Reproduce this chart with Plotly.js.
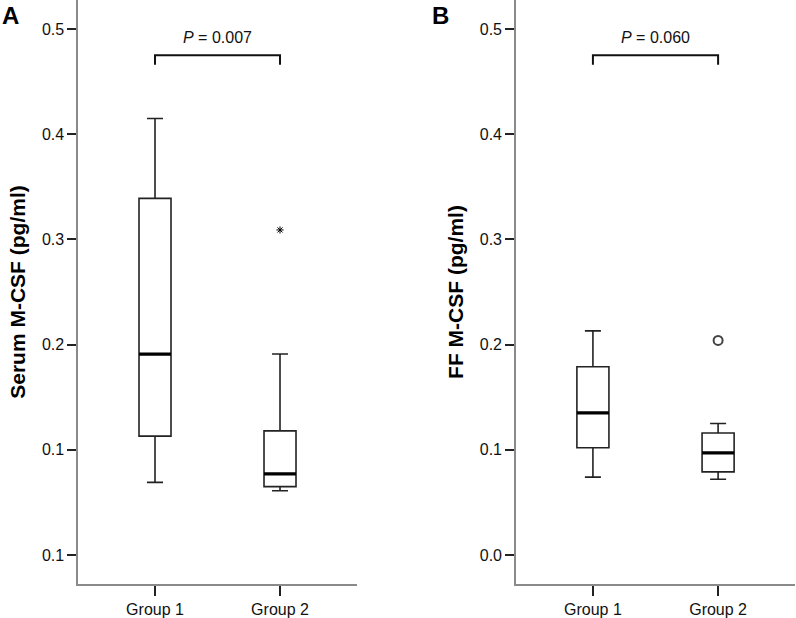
<!DOCTYPE html>
<html>
<head>
<meta charset="utf-8">
<script src="https://cdn.plot.ly/plotly-3.0.1.min.js"></script>
<style>html,body{margin:0;padding:0;background:#fff;}#chart{width:796px;height:618px;}</style>
</head>
<body>
<div id="chart"></div>
<script>
// ---- data ----
const groups = ["Group 1", "Group 2"];
// Panel A: Serum M-CSF
const serumLower  = [0.069, 0.061];
const serumQ1     = [0.113, 0.065];
const serumMedian = [0.191, 0.077];
const serumQ3     = [0.339, 0.118];
const serumUpper  = [0.415, 0.191];
const serumOutX   = ["Group 2"];
const serumOutY   = [0.309];
// Panel B: FF M-CSF
const ffLower  = [0.074, 0.072];
const ffQ1     = [0.102, 0.079];
const ffMedian = [0.135, 0.097];
const ffQ3     = [0.179, 0.116];
const ffUpper  = [0.213, 0.125];
const ffOutX   = ["Group 2"];
const ffOutY   = [0.204];
// tick labels
const yTickVals = [0.0, 0.1, 0.2, 0.3, 0.4, 0.5];
const yTickTextA = ["0.1", "0.1", "0.2", "0.3", "0.4", "0.5"];
const yTickTextB = ["0.0", "0.1", "0.2", "0.3", "0.4", "0.5"];
// significance brackets
const bracketY = [0.466, 0.475, 0.475, 0.466];
const bracketX = ["Group 1", "Group 1", "Group 2", "Group 2"];
const pTextA = "<i>P</i> = 0.007";
const pTextB = "<i>P</i> = 0.060";

const boxW = 0.256;
function boxTrace(lo, q1, med, q3, up, xa, ya) {
  return {
    type: "box", x: groups, q1: q1, median: med, q3: q3,
    lowerfence: lo, upperfence: up, xaxis: xa, yaxis: ya,
    width: boxW, whiskerwidth: 0.5, boxpoints: false,
    fillcolor: "rgba(255,255,255,1)",
    line: { color: "#222", width: 1.6 }, showlegend: false, hoverinfo: "skip"
  };
}
function medTrace(med, xa, ya) {
  return {
    type: "box", x: groups, q1: med, median: med, q3: med,
    lowerfence: med, upperfence: med, xaxis: xa, yaxis: ya,
    width: boxW, whiskerwidth: 0, boxpoints: false,
    fillcolor: "rgba(0,0,0,0)",
    line: { color: "#000", width: 3.2 }, showlegend: false, hoverinfo: "skip"
  };
}
function bracketTrace(xa, ya) {
  return {
    type: "scatter", mode: "lines", x: bracketX, y: bracketY, xaxis: xa, yaxis: ya,
    line: { color: "#111", width: 2 }, showlegend: false, hoverinfo: "skip"
  };
}

const data = [
  boxTrace(serumLower, serumQ1, serumMedian, serumQ3, serumUpper, "x", "y"),
  medTrace(serumMedian, "x", "y"),
  { type: "scatter", mode: "markers", x: serumOutX, y: serumOutY, xaxis: "x", yaxis: "y",
    marker: { symbol: "asterisk-open", size: 6, color: "#000", line: { color: "#000", width: 1 } },
    showlegend: false, hoverinfo: "skip" },
  bracketTrace("x", "y"),
  boxTrace(ffLower, ffQ1, ffMedian, ffQ3, ffUpper, "x2", "y2"),
  medTrace(ffMedian, "x2", "y2"),
  { type: "scatter", mode: "markers", x: ffOutX, y: ffOutY, xaxis: "x2", yaxis: "y2",
    marker: { symbol: "circle-open", size: 9, color: "#444", line: { color: "#444", width: 2 } },
    showlegend: false, hoverinfo: "skip" },
  bracketTrace("x2", "y2")
];

const font = { family: "Liberation Sans, Arial, sans-serif", color: "#111" };
function xAxis(domain, anchor) {
  return {
    domain: domain, anchor: anchor, type: "category", categoryorder: "array", categoryarray: groups,
    range: [-0.616, 1.616], showgrid: false, zeroline: false,
    showline: true, linecolor: "#8a8a8a", linewidth: 1.6,
    ticks: "outside", ticklen: 10, tickwidth: 2, tickcolor: "#222",
    tickfont: { family: font.family, size: 16, color: "#111" }, fixedrange: true
  };
}
function yAxis(anchor, ticktext, title) {
  return {
    anchor: anchor, domain: [0, 1], range: [-0.0276, 0.5276],
    tickmode: "array", tickvals: yTickVals, ticktext: ticktext,
    showgrid: false, zeroline: false,
    showline: true, linecolor: "#8a8a8a", linewidth: 1.6,
    ticks: "outside", ticklen: 9, tickwidth: 2, tickcolor: "#222",
    tickfont: { family: font.family, size: 16, color: "#111" },
    title: { text: title, font: { family: font.family, size: 21, color: "#000", weight: "bold" }, standoff: 10 },
    fixedrange: true
  };
}

const layout = {
  width: 796, height: 618,
  margin: { l: 0, r: 0, t: 0, b: 34 },
  paper_bgcolor: "#fff", plot_bgcolor: "#fff",
  font: font,
  boxmode: "overlay",
  xaxis: xAxis([0.098, 0.4485], "y"),
  yaxis: yAxis("x", yTickTextA, "<b>Serum M-CSF (pg/ml)</b>"),
  xaxis2: xAxis([0.648, 0.999], "y2"),
  yaxis2: yAxis("x2", yTickTextB, "<b>FF M-CSF (pg/ml)</b>"),
  annotations: [
    { text: "<b>A</b>", xref: "paper", yref: "paper", x: 0.0, y: 1.0, xanchor: "left", yanchor: "top",
      yshift: 0, showarrow: false, font: { family: font.family, size: 24, color: "#000" } },
    { text: "<b>B</b>", xref: "paper", yref: "paper", x: 0.540, y: 1.0, xanchor: "left", yanchor: "top",
      yshift: 0, showarrow: false, font: { family: font.family, size: 24, color: "#000" } },
    { text: pTextA, xref: "x", yref: "y", x: 0.5, y: bracketY[1], yanchor: "bottom", yshift: 7,
      showarrow: false, font: { family: font.family, size: 16, color: "#111" } },
    { text: pTextB, xref: "x2", yref: "y2", x: 0.5, y: bracketY[1], yanchor: "bottom", yshift: 7,
      showarrow: false, font: { family: font.family, size: 16, color: "#111" } }
  ]
};

Plotly.newPlot("chart", data, layout, { displayModeBar: false, staticPlot: true });
</script>
</body>
</html>
